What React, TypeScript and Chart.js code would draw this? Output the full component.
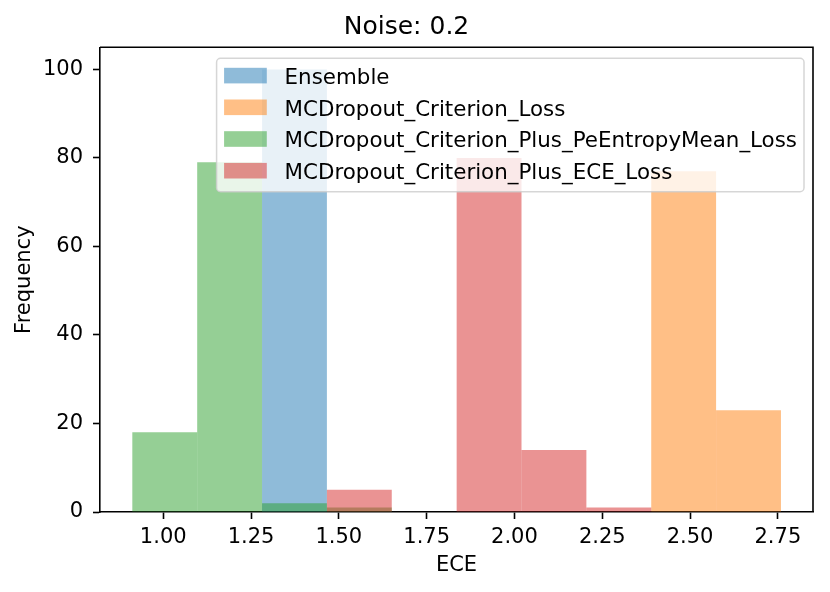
import { useEffect, useRef } from "react";
import { Chart, registerables } from "chart.js";

Chart.register(...registerables);

const chartTitle = "Noise: 0.2";
const xAxisLabel = "ECE";
const yAxisLabel = "Frequency";

// shared histogram bin edges (10 bins)
const binEdges = [0.912, 1.0967, 1.2814, 1.466, 1.6507, 1.8354, 2.0201, 2.2048, 2.3894, 2.5741, 2.7588];

const seriesNames = [
  "Ensemble",
  "MCDropout_Criterion_Loss",
  "MCDropout_Criterion_Plus_PeEntropyMean_Loss",
  "MCDropout_Criterion_Plus_ECE_Loss",
];

const ensembleCounts = [0, 0, 100, 0, 0, 0, 0, 0, 0, 0];
const criterionCounts = [0, 0, 0, 0, 0, 0, 0, 0, 77, 23];
const peEntropyCounts = [18, 79, 2, 1, 0, 0, 0, 0, 0, 0];
const eceCounts = [0, 0, 0, 5, 0, 80, 14, 1, 0, 0];

const xMin = 0.82;
const xMax = 2.85;
const xStep = 0.25;
const yMin = 0;
const yMax = 105;
const yStep = 20;

const seriesColors = [
  "rgba(31,119,180,0.5)",
  "rgba(255,127,14,0.5)",
  "rgba(44,160,44,0.5)",
  "rgba(214,39,40,0.5)",
];

const FONT = "DejaVu Sans";

function toPoints(counts: number[]) {
  return counts.map((c, i) => ({ x: (binEdges[i] + binEdges[i + 1]) / 2, y: c }));
}

const framePlugin = {
  id: "mplFrame",
  afterDatasetsDraw(chart: any) {
    const { ctx, chartArea } = chart;
    ctx.save();
    ctx.strokeStyle = "#000";
    ctx.lineWidth = 1.6;
    ctx.beginPath();
    ctx.moveTo(chartArea.left, chartArea.top);
    ctx.lineTo(chartArea.right, chartArea.top);
    ctx.lineTo(chartArea.right, chartArea.bottom);
    ctx.stroke();
    ctx.restore();
  },
};

const legendPlugin = {
  id: "mplLegend",
  afterDraw(chart: any) {
    const { ctx, chartArea } = chart;
    const datasets = chart.data.datasets;
    ctx.save();
    ctx.font = `21.4px "${FONT}"`;
    const widths = datasets.map((d: any) => ctx.measureText(d.label).width);
    const maxW = Math.max(...widths);
    const rowH = 31.7;
    const boxW = 67 + maxW + 8;
    const boxH = 133.4;
    const boxRight = chartArea.right - 9;
    const boxLeft = boxRight - boxW;
    const boxTop = chartArea.top + 11;
    const r = 4;
    ctx.beginPath();
    ctx.moveTo(boxLeft + r, boxTop);
    ctx.arcTo(boxLeft + boxW, boxTop, boxLeft + boxW, boxTop + boxH, r);
    ctx.arcTo(boxLeft + boxW, boxTop + boxH, boxLeft, boxTop + boxH, r);
    ctx.arcTo(boxLeft, boxTop + boxH, boxLeft, boxTop, r);
    ctx.arcTo(boxLeft, boxTop, boxLeft + boxW, boxTop, r);
    ctx.closePath();
    ctx.fillStyle = "rgba(255,255,255,0.8)";
    ctx.fill();
    ctx.strokeStyle = "rgba(204,204,204,0.8)";
    ctx.lineWidth = 1.5;
    ctx.stroke();
    datasets.forEach((d: any, i: number) => {
      const cy = boxTop + 17.3 + i * rowH;
      ctx.fillStyle = d.backgroundColor;
      ctx.fillRect(boxLeft + 7.5, cy - 7.8, 42.7, 15.6);
      ctx.fillStyle = "#000";
      ctx.textBaseline = "alphabetic";
      ctx.textAlign = "left";
      ctx.fillText(d.label, boxLeft + 68, cy + 8.3);
    });
    ctx.restore();
  },
};

export default function App() {
  const canvasRef = useRef<HTMLCanvasElement | null>(null);

  useEffect(() => {
    if (!canvasRef.current) return;
    Chart.defaults.font.family = FONT;
    const allCounts = [ensembleCounts, criterionCounts, peEntropyCounts, eceCounts];
    const tickFont = { family: FONT, size: 21, weight: "normal" as const, lineHeight: 1.2 };
    const chart = new Chart(canvasRef.current, {
      type: "bar",
      data: {
        datasets: allCounts.map((counts, i) => ({
          label: seriesNames[i],
          data: toPoints(counts),
          backgroundColor: seriesColors[i],
          borderWidth: 0,
          inflateAmount: 0,
          grouped: false,
          barPercentage: 1,
          categoryPercentage: 1,
          order: allCounts.length - i,
        })) as any,
      },
      options: {
        animation: false,
        responsive: false,
        devicePixelRatio: 1,
        layout: { padding: { left: 0, right: 17, top: 0, bottom: 0 } },
        plugins: {
          legend: { display: false },
          tooltip: { enabled: false },
          title: {
            display: true,
            text: chartTitle,
            color: "#000",
            font: { family: FONT, size: 25, weight: "normal", lineHeight: 1.2 },
            padding: { top: 12.5, bottom: 4.8 },
          },
        },
        scales: {
          x: {
            type: "linear",
            min: xMin,
            max: xMax,
            offset: false,
            grid: {
              display: true,
              drawOnChartArea: false,
              drawTicks: true,
              tickLength: 7,
              tickColor: "#000",
              tickWidth: 1.6,
              offset: false,
            },
            border: { display: true, color: "#000", width: 1.6 },
            ticks: {
              stepSize: xStep,
              includeBounds: false,
              autoSkip: false,
              maxRotation: 0,
              color: "#000",
              font: tickFont,
              padding: 6,
              callback: (v: any) => Number(v).toFixed(2),
            },
            title: {
              display: true,
              text: xAxisLabel,
              color: "#000",
              font: tickFont,
              padding: { top: 0, bottom: 13.5 },
            },
            afterFit: (s: any) => {
              s.height = 80;
            },
          },
          y: {
            type: "linear",
            min: yMin,
            max: yMax,
            grid: {
              display: true,
              drawOnChartArea: false,
              drawTicks: true,
              tickLength: 7,
              tickColor: "#000",
              tickWidth: 1.6,
            },
            border: { display: true, color: "#000", width: 1.6 },
            ticks: {
              stepSize: yStep,
              includeBounds: false,
              color: "#000",
              font: tickFont,
              padding: 10,
            },
            title: {
              display: true,
              text: yAxisLabel,
              color: "#000",
              font: tickFont,
              padding: { top: 12, bottom: 0 },
            },
            afterFit: (s: any) => {
              s.width = 100;
            },
          },
        },
      } as any,
      plugins: [framePlugin, legendPlugin],
    });
    return () => chart.destroy();
  }, []);

  return (
    <div style={{ position: "absolute", left: 0, top: 0, width: 830, height: 592, background: "#fff" }}>
      <canvas ref={canvasRef} width={830} height={592} style={{ display: "block" }} />
    </div>
  );
}
